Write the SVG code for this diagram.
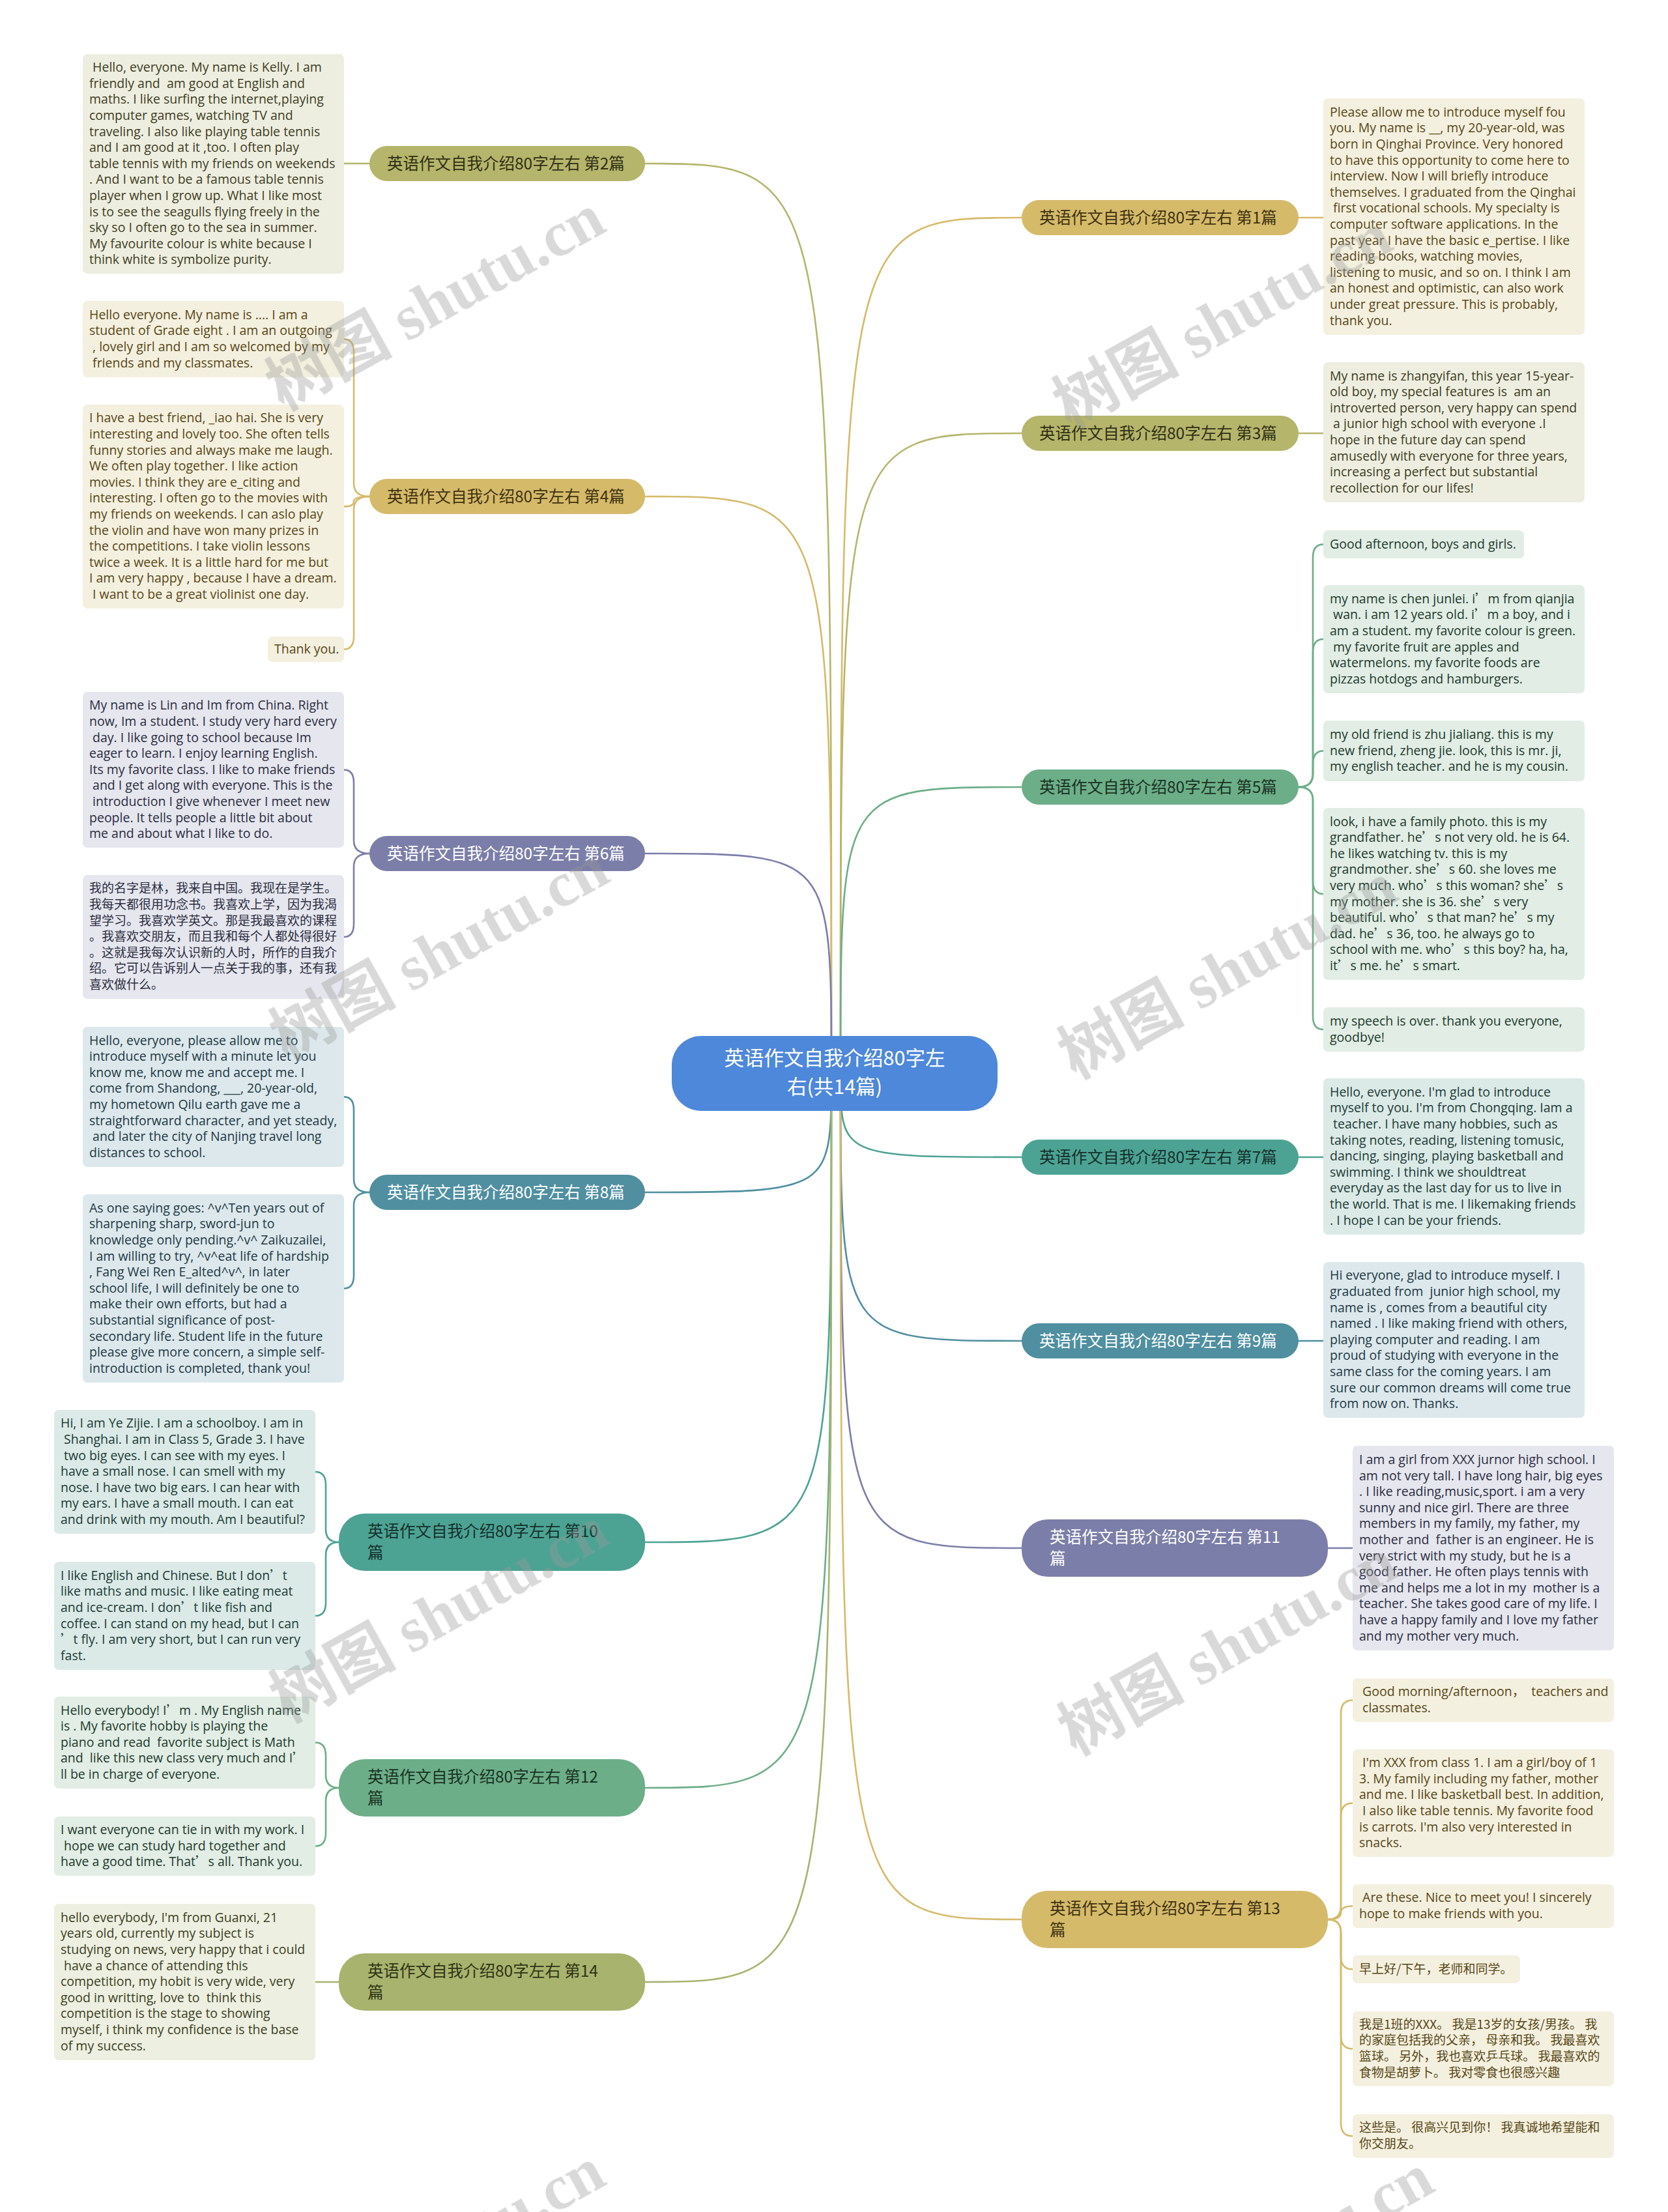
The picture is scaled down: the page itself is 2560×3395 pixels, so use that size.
<svg xmlns="http://www.w3.org/2000/svg" width="2560" height="3395" viewBox="0 0 2560 3395">
<style>
.t{font-family:"Open Sans","Noto Sans CJK SC",sans-serif;font-size:19.5px;}
.zh{font-family:"Noto Sans CJK SC",sans-serif;font-size:19px;}
.fw{font-family:"Noto Sans CJK SC",sans-serif;}
.nl{font-family:"Noto Sans CJK SC",sans-serif;font-size:24.5px;}
.ct{font-family:"Noto Sans CJK SC",sans-serif;font-size:30.5px;fill:#ffffff;}
.cn{fill:none;stroke-width:2.6;stroke-linecap:round;}
.olive .b{fill:#eeeee0}.olive text{fill:#3d3d1f}
.gold .b{fill:#f4f0df}.gold text{fill:#574616}
.purple .b{fill:#e5e6ee}.purple text{fill:#2b2c3e}
.teal .b{fill:#dce8ec}.teal text{fill:#1f3843}
.tg .b{fill:#dbeae7}.tg text{fill:#1d3a35}
.green .b{fill:#e1ede5}.green text{fill:#22392b}
.olive2 .b{fill:#edefe1}.olive2 text{fill:#3b3f22}
.wm{font-family:"Liberation Serif","Noto Sans CJK SC",serif;font-weight:bold;font-size:97px;fill:#9a9a9a;text-anchor:middle;}
</style>
<rect x="0" y="0" width="2560" height="3395" fill="#ffffff"/>

<g id="connectors">
<g stroke="#b5b56b"><path class="cn" d="M1276,1647 C1276,251 1276,251 990,251"/><path class="cn" d="M567,251 H528"/></g>
<g stroke="#d5ba69"><path class="cn" d="M1276,1647 C1276,762 1276,762 990,762"/>
<path class="cn" d="M567,762 Q543,762 543,742 V540.5 Q543,520.5 528,520.5"/>
<path class="cn" d="M567,762 Q543,762 543,769.75 V769.75 Q543,777.5 528,777.5"/>
<path class="cn" d="M567,762 Q543,762 543,782 V976.5 Q543,996.5 528,996.5"/></g>
<g stroke="#7b7ea8"><path class="cn" d="M1276,1647 C1276,1310 1276,1310 990,1310"/>
<path class="cn" d="M567,1310 Q543,1310 543,1290 V1201.5 Q543,1181.5 528,1181.5"/>
<path class="cn" d="M567,1310 Q543,1310 543,1330 V1418 Q543,1438 528,1438"/></g>
<g stroke="#4f8fa0"><path class="cn" d="M1276,1647 C1276,1830 1276,1830 990,1830"/>
<path class="cn" d="M567,1830 Q543,1830 543,1810 V1703.5 Q543,1683.5 528,1683.5"/>
<path class="cn" d="M567,1830 Q543,1830 543,1850 V1957.5 Q543,1977.5 528,1977.5"/></g>
<g stroke="#4ca394"><path class="cn" d="M1276,1647 C1276,2367 1276,2367 990,2367"/>
<path class="cn" d="M520,2367 Q500,2367 500,2347 V2279 Q500,2259 484,2259"/>
<path class="cn" d="M520,2367 Q500,2367 500,2387 V2460 Q500,2480 484,2480"/></g>
<g stroke="#6cae88"><path class="cn" d="M1276,1647 C1276,2744 1276,2744 990,2744"/>
<path class="cn" d="M520,2744 Q500,2744 500,2724 V2694.5 Q500,2674.5 484,2674.5"/>
<path class="cn" d="M520,2744 Q500,2744 500,2764 V2813.5 Q500,2833.5 484,2833.5"/></g>
<g stroke="#a8b36e"><path class="cn" d="M1276,1647 C1276,3042 1276,3042 990,3042"/><path class="cn" d="M520,3042 H484"/></g>
<g stroke="#d5ba69"><path class="cn" d="M1290,1647 C1290,334 1290,334 1568,334"/><path class="cn" d="M1993,334 H2031"/></g>
<g stroke="#b5b56b"><path class="cn" d="M1290,1647 C1290,665 1290,665 1568,665"/><path class="cn" d="M1993,665 H2031"/></g>
<g stroke="#6cae88"><path class="cn" d="M1290,1647 C1290,1208 1290,1208 1568,1208"/>
<path class="cn" d="M1993,1208 Q2015,1208 2015,1188 V855.5 Q2015,835.5 2031,835.5"/>
<path class="cn" d="M1993,1208 Q2015,1208 2015,1188 V1001 Q2015,981 2031,981"/>
<path class="cn" d="M1993,1208 Q2015,1208 2015,1188 V1172.5 Q2015,1152.5 2031,1152.5"/>
<path class="cn" d="M1993,1208 Q2015,1208 2015,1228 V1352 Q2015,1372 2031,1372"/>
<path class="cn" d="M1993,1208 Q2015,1208 2015,1228 V1560 Q2015,1580 2031,1580"/></g>
<g stroke="#4ca394"><path class="cn" d="M1290,1647 C1290,1776 1290,1776 1568,1776"/><path class="cn" d="M1993,1776 H2031"/></g>
<g stroke="#4f8fa0"><path class="cn" d="M1290,1647 C1290,2058 1290,2058 1568,2058"/><path class="cn" d="M1993,2058 H2031"/></g>
<g stroke="#7b7ea8"><path class="cn" d="M1290,1647 C1290,2376 1290,2376 1568,2376"/><path class="cn" d="M2038,2376 H2076"/></g>
<g stroke="#d5ba69"><path class="cn" d="M1290,1647 C1290,2946 1290,2946 1568,2946"/>
<path class="cn" d="M2038,2946 Q2058,2946 2058,2926 V2629.5 Q2058,2609.5 2076,2609.5"/>
<path class="cn" d="M2038,2946 Q2058,2946 2058,2926 V2787.5 Q2058,2767.5 2076,2767.5"/>
<path class="cn" d="M2038,2946 Q2058,2946 2058,2935.75 V2935.75 Q2058,2925.5 2076,2925.5"/>
<path class="cn" d="M2038,2946 Q2058,2946 2058,2966 V3002.5 Q2058,3022.5 2076,3022.5"/>
<path class="cn" d="M2038,2946 Q2058,2946 2058,2966 V3124.5 Q2058,3144.5 2076,3144.5"/>
<path class="cn" d="M2038,2946 Q2058,2946 2058,2966 V3258.5 Q2058,3278.5 2076,3278.5"/></g>
</g>

<g id="center">
<rect x="1031" y="1590" width="500" height="115" rx="45" fill="#4e88da"/>
<text class="ct" x="1281" y="1634.5" text-anchor="middle">英语作文自我介绍80字左</text>
<text class="ct" x="1281" y="1678.5" text-anchor="middle">右(共14篇)</text>
</g>

<g id="node-2"><rect x="567" y="224" width="423" height="54" rx="27" fill="#b5b56b"/><text class="nl" x="594" y="259.5" fill="#2f2f14">英语作文自我介绍80字左右 第2篇</text></g>
<g id="node-4"><rect x="567" y="735" width="423" height="54" rx="27" fill="#d5ba69"/><text class="nl" x="594" y="770.5" fill="#3f3210">英语作文自我介绍80字左右 第4篇</text></g>
<g id="node-6"><rect x="567" y="1283" width="423" height="54" rx="27" fill="#7b7ea8"/><text class="nl" x="594" y="1318.5" fill="#ffffff">英语作文自我介绍80字左右 第6篇</text></g>
<g id="node-8"><rect x="567" y="1803" width="423" height="54" rx="27" fill="#4f8fa0"/><text class="nl" x="594" y="1838.5" fill="#ffffff">英语作文自我介绍80字左右 第8篇</text></g>
<g id="node-10"><rect x="520" y="2323" width="470" height="88" rx="40" fill="#4ca394"/><text class="nl" x="564" y="2359" fill="#16302b">英语作文自我介绍80字左右 第10</text><text class="nl" x="564" y="2392" fill="#16302b">篇</text></g>
<g id="node-12"><rect x="520" y="2700" width="470" height="88" rx="40" fill="#6cae88"/><text class="nl" x="564" y="2736" fill="#1a3222">英语作文自我介绍80字左右 第12</text><text class="nl" x="564" y="2769" fill="#1a3222">篇</text></g>
<g id="node-14"><rect x="520" y="2998" width="470" height="88" rx="40" fill="#a8b36e"/><text class="nl" x="564" y="3034" fill="#2f3314">英语作文自我介绍80字左右 第14</text><text class="nl" x="564" y="3067" fill="#2f3314">篇</text></g>
<g id="node-1"><rect x="1568" y="307" width="425" height="54" rx="27" fill="#d5ba69"/><text class="nl" x="1595" y="342.5" fill="#3f3210">英语作文自我介绍80字左右 第1篇</text></g>
<g id="node-3"><rect x="1568" y="638" width="425" height="54" rx="27" fill="#b5b56b"/><text class="nl" x="1595" y="673.5" fill="#2f2f14">英语作文自我介绍80字左右 第3篇</text></g>
<g id="node-5"><rect x="1568" y="1181" width="425" height="54" rx="27" fill="#6cae88"/><text class="nl" x="1595" y="1216.5" fill="#1a3222">英语作文自我介绍80字左右 第5篇</text></g>
<g id="node-7"><rect x="1568" y="1749" width="425" height="54" rx="27" fill="#4ca394"/><text class="nl" x="1595" y="1784.5" fill="#16302b">英语作文自我介绍80字左右 第7篇</text></g>
<g id="node-9"><rect x="1568" y="2031" width="425" height="54" rx="27" fill="#4f8fa0"/><text class="nl" x="1595" y="2066.5" fill="#ffffff">英语作文自我介绍80字左右 第9篇</text></g>
<g id="node-11"><rect x="1568" y="2332" width="470" height="88" rx="40" fill="#7b7ea8"/><text class="nl" x="1611" y="2368" fill="#ffffff">英语作文自我介绍80字左右 第11</text><text class="nl" x="1611" y="2401" fill="#ffffff">篇</text></g>
<g id="node-13"><rect x="1568" y="2902" width="470" height="88" rx="40" fill="#d5ba69"/><text class="nl" x="1611" y="2938" fill="#3f3210">英语作文自我介绍80字左右 第13</text><text class="nl" x="1611" y="2971" fill="#3f3210">篇</text></g>

<g id="box-2" class="olive"><rect class="b" x="127" y="83" width="401" height="337" rx="7"/>
<text class="t" xml:space="preserve" x="137" y="110.1"><tspan x="137"> Hello, everyone. My name is Kelly. I am</tspan><tspan x="137" dy="24.6">friendly and  am good at English and</tspan><tspan x="137" dy="24.6">maths. I like surfing the internet,playing</tspan><tspan x="137" dy="24.6">computer games, watching TV and</tspan><tspan x="137" dy="24.6">traveling. I also like playing table tennis</tspan><tspan x="137" dy="24.6">and I am good at it ,too. I often play</tspan><tspan x="137" dy="24.6">table tennis with my friends on weekends</tspan><tspan x="137" dy="24.6">. And I want to be a famous table tennis</tspan><tspan x="137" dy="24.6">player when I grow up. What I like most</tspan><tspan x="137" dy="24.6">is to see the seagulls flying freely in the</tspan><tspan x="137" dy="24.6">sky so I often go to the sea in summer.</tspan><tspan x="137" dy="24.6">My favourite colour is white because I</tspan><tspan x="137" dy="24.6">think white is symbolize purity.</tspan></text></g>

<g id="box-4a" class="gold"><rect class="b" x="127" y="462" width="401" height="117" rx="7"/>
<text class="t" xml:space="preserve" x="137" y="489.8"><tspan x="137">Hello everyone. My name is .... I am a</tspan><tspan x="137" dy="24.6">student of Grade eight . I am an outgoing</tspan><tspan x="137" dy="24.6"> , lovely girl and I am so welcomed by my</tspan><tspan x="137" dy="24.6"> friends and my classmates.</tspan></text></g>

<g id="box-4b" class="gold"><rect class="b" x="127" y="621" width="401" height="313" rx="7"/>
<text class="t" xml:space="preserve" x="137" y="648.4"><tspan x="137">I have a best friend, _iao hai. She is very</tspan><tspan x="137" dy="24.6">interesting and lovely too. She often tells</tspan><tspan x="137" dy="24.6">funny stories and always make me laugh.</tspan><tspan x="137" dy="24.6">We often play together. I like action</tspan><tspan x="137" dy="24.6">movies. I think they are e_citing and</tspan><tspan x="137" dy="24.6">interesting. I often go to the movies with</tspan><tspan x="137" dy="24.6">my friends on weekends. I can aslo play</tspan><tspan x="137" dy="24.6">the violin and have won many prizes in</tspan><tspan x="137" dy="24.6">the competitions. I take violin lessons</tspan><tspan x="137" dy="24.6">twice a week. It is a little hard for me but</tspan><tspan x="137" dy="24.6">I am very happy , because I have a dream.</tspan><tspan x="137" dy="24.6"> I want to be a great violinist one day.</tspan></text></g>

<g id="box-4c" class="gold"><rect class="b" x="411" y="977" width="117" height="39" rx="7"/>
<text class="t" x="421" y="1002.7">Thank you.</text></g>

<g id="box-6a" class="purple"><rect class="b" x="127" y="1062" width="401" height="239" rx="7"/>
<text class="t" xml:space="preserve" x="137" y="1089.3"><tspan x="137">My name is Lin and Im from China. Right</tspan><tspan x="137" dy="24.6">now, Im a student. I study very hard every</tspan><tspan x="137" dy="24.6"> day. I like going to school because Im</tspan><tspan x="137" dy="24.6">eager to learn. I enjoy learning English.</tspan><tspan x="137" dy="24.6">Its my favorite class. I like to make friends</tspan><tspan x="137" dy="24.6"> and I get along with everyone. This is the</tspan><tspan x="137" dy="24.6"> introduction I give whenever I meet new</tspan><tspan x="137" dy="24.6">people. It tells people a little bit about</tspan><tspan x="137" dy="24.6">me and about what I like to do.</tspan></text></g>

<g id="box-6b" class="purple"><rect class="b" x="127" y="1343" width="401" height="190" rx="7"/>
<text class="zh" x="137" y="1370.4"><tspan x="137">我的名字是林，我来自中国。我现在是学生。</tspan><tspan x="137" dy="24.6">我每天都很用功念书。我喜欢上学，因为我渴</tspan><tspan x="137" dy="24.6">望学习。我喜欢学英文。那是我最喜欢的课程</tspan><tspan x="137" dy="24.6">。我喜欢交朋友，而且我和每个人都处得很好</tspan><tspan x="137" dy="24.6">。这就是我每次认识新的人时，所作的自我介</tspan><tspan x="137" dy="24.6">绍。它可以告诉别人一点关于我的事，还有我</tspan><tspan x="137" dy="24.6">喜欢做什么。</tspan></text></g>

<g id="box-8a" class="teal"><rect class="b" x="127" y="1576" width="401" height="215" rx="7"/>
<text class="t" xml:space="preserve" x="137" y="1603.6"><tspan x="137">Hello, everyone, please allow me to</tspan><tspan x="137" dy="24.6">introduce myself with a minute let you</tspan><tspan x="137" dy="24.6">know me, know me and accept me. I</tspan><tspan x="137" dy="24.6">come from Shandong, ___, 20-year-old,</tspan><tspan x="137" dy="24.6">my hometown Qilu earth gave me a</tspan><tspan x="137" dy="24.6">straightforward character, and yet steady,</tspan><tspan x="137" dy="24.6"> and later the city of Nanjing travel long</tspan><tspan x="137" dy="24.6">distances to school.</tspan></text></g>

<g id="box-8b" class="teal"><rect class="b" x="127" y="1833" width="401" height="289" rx="7"/>
<text class="t" xml:space="preserve" x="137" y="1860.7"><tspan x="137">As one saying goes: ^v^Ten years out of</tspan><tspan x="137" dy="24.6">sharpening sharp, sword-jun to</tspan><tspan x="137" dy="24.6">knowledge only pending.^v^ Zaikuzailei,</tspan><tspan x="137" dy="24.6">I am willing to try, ^v^eat life of hardship</tspan><tspan x="137" dy="24.6">, Fang Wei Ren E_alted^v^, in later</tspan><tspan x="137" dy="24.6">school life, I will definitely be one to</tspan><tspan x="137" dy="24.6">make their own efforts, but had a</tspan><tspan x="137" dy="24.6">substantial significance of post-</tspan><tspan x="137" dy="24.6">secondary life. Student life in the future</tspan><tspan x="137" dy="24.6">please give more concern, a simple self-</tspan><tspan x="137" dy="24.6">introduction is completed, thank you!</tspan></text></g>

<g id="box-10a" class="tg"><rect class="b" x="83" y="2164" width="401" height="190" rx="7"/>
<text class="t" xml:space="preserve" x="93" y="2191.4"><tspan x="93">Hi, I am Ye Zijie. I am a schoolboy. I am in</tspan><tspan x="93" dy="24.6"> Shanghai. I am in Class 5, Grade 3. I have</tspan><tspan x="93" dy="24.6"> two big eyes. I can see with my eyes. I</tspan><tspan x="93" dy="24.6">have a small nose. I can smell with my</tspan><tspan x="93" dy="24.6">nose. I have two big ears. I can hear with</tspan><tspan x="93" dy="24.6">my ears. I have a small mouth. I can eat</tspan><tspan x="93" dy="24.6">and drink with my mouth. Am I beautiful?</tspan></text></g>

<g id="box-10b" class="tg"><rect class="b" x="83" y="2397" width="401" height="166" rx="7"/>
<text class="t" xml:space="preserve" x="93" y="2424.7"><tspan x="93">I like English and Chinese. But I don<tspan class="fw">’</tspan>t</tspan><tspan x="93" dy="24.6">like maths and music. I like eating meat</tspan><tspan x="93" dy="24.6">and ice-cream. I don<tspan class="fw">’</tspan>t like fish and</tspan><tspan x="93" dy="24.6">coffee. I can stand on my head, but I can</tspan><tspan x="93" dy="24.6"><tspan class="fw">’</tspan>t fly. I am very short, but I can run very</tspan><tspan x="93" dy="24.6">fast.</tspan></text></g>

<g id="box-12a" class="green"><rect class="b" x="83" y="2604" width="401" height="141" rx="7"/>
<text class="t" xml:space="preserve" x="93" y="2631.5"><tspan x="93">Hello everybody! I<tspan class="fw">’</tspan>m . My English name</tspan><tspan x="93" dy="24.6">is . My favorite hobby is playing the</tspan><tspan x="93" dy="24.6">piano and read  favorite subject is Math</tspan><tspan x="93" dy="24.6">and  like this new class very much and I<tspan class="fw">’</tspan></tspan><tspan x="93" dy="24.6">ll be in charge of everyone.</tspan></text></g>

<g id="box-12b" class="green"><rect class="b" x="83" y="2788" width="401" height="91" rx="7"/>
<text class="t" xml:space="preserve" x="93" y="2815.1"><tspan x="93">I want everyone can tie in with my work. I</tspan><tspan x="93" dy="24.6"> hope we can study hard together and</tspan><tspan x="93" dy="24.6">have a good time. That<tspan class="fw">’</tspan>s all. Thank you.</tspan></text></g>

<g id="box-14" class="olive2"><rect class="b" x="83" y="2922" width="401" height="240" rx="7"/>
<text class="t" xml:space="preserve" x="93" y="2949.8"><tspan x="93">hello everybody, I'm from Guanxi, 21</tspan><tspan x="93" dy="24.6">years old, currently my subject is</tspan><tspan x="93" dy="24.6">studying on news, very happy that i could</tspan><tspan x="93" dy="24.6"> have a chance of attending this</tspan><tspan x="93" dy="24.6">competition, my hobit is very wide, very</tspan><tspan x="93" dy="24.6">good in writting, love to  think this</tspan><tspan x="93" dy="24.6">competition is the stage to showing</tspan><tspan x="93" dy="24.6">myself, i think my confidence is the base</tspan><tspan x="93" dy="24.6">of my success.</tspan></text></g>

<g id="box-1" class="gold"><rect class="b" x="2031" y="151" width="401" height="363" rx="7"/>
<text class="t" xml:space="preserve" x="2041" y="178.8"><tspan x="2041">Please allow me to introduce myself fou</tspan><tspan x="2041" dy="24.6">you. My name is __, my 20-year-old, was</tspan><tspan x="2041" dy="24.6">born in Qinghai Province. Very honored</tspan><tspan x="2041" dy="24.6">to have this opportunity to come here to</tspan><tspan x="2041" dy="24.6">interview. Now I will briefly introduce</tspan><tspan x="2041" dy="24.6">themselves. I graduated from the Qinghai</tspan><tspan x="2041" dy="24.6"> first vocational schools. My specialty is</tspan><tspan x="2041" dy="24.6">computer software applications. In the</tspan><tspan x="2041" dy="24.6">past year I have the basic e_pertise. I like</tspan><tspan x="2041" dy="24.6">reading books, watching movies,</tspan><tspan x="2041" dy="24.6">listening to music, and so on. I think I am</tspan><tspan x="2041" dy="24.6">an honest and optimistic, can also work</tspan><tspan x="2041" dy="24.6">under great pressure. This is probably,</tspan><tspan x="2041" dy="24.6">thank you.</tspan></text></g>

<g id="box-3" class="olive"><rect class="b" x="2031" y="556" width="401" height="215" rx="7"/>
<text class="t" xml:space="preserve" x="2041" y="583.6"><tspan x="2041">My name is zhangyifan, this year 15-year-</tspan><tspan x="2041" dy="24.6">old boy, my special features is  am an</tspan><tspan x="2041" dy="24.6">introverted person, very happy can spend</tspan><tspan x="2041" dy="24.6"> a junior high school with everyone .I</tspan><tspan x="2041" dy="24.6">hope in the future day can spend</tspan><tspan x="2041" dy="24.6">amusedly with everyone for three years,</tspan><tspan x="2041" dy="24.6">increasing a perfect but substantial</tspan><tspan x="2041" dy="24.6">recollection for our lifes!</tspan></text></g>

<g id="box-5a" class="green"><rect class="b" x="2031" y="814" width="308" height="43" rx="7"/>
<text class="t" x="2041" y="841.7">Good afternoon, boys and girls.</text></g>

<g id="box-5b" class="green"><rect class="b" x="2031" y="898" width="401" height="166" rx="7"/>
<text class="t" xml:space="preserve" x="2041" y="925.7"><tspan x="2041">my name is chen junlei. i<tspan class="fw">’</tspan>m from qianjia</tspan><tspan x="2041" dy="24.6"> wan. i am 12 years old. i<tspan class="fw">’</tspan>m a boy, and i</tspan><tspan x="2041" dy="24.6">am a student. my favorite colour is green.</tspan><tspan x="2041" dy="24.6"> my favorite fruit are apples and</tspan><tspan x="2041" dy="24.6">watermelons. my favorite foods are</tspan><tspan x="2041" dy="24.6">pizzas hotdogs and hamburgers.</tspan></text></g>

<g id="box-5c" class="green"><rect class="b" x="2031" y="1106" width="401" height="93" rx="7"/>
<text class="t" xml:space="preserve" x="2041" y="1134.1"><tspan x="2041">my old friend is zhu jialiang. this is my</tspan><tspan x="2041" dy="24.6">new friend, zheng jie. look, this is mr. ji,</tspan><tspan x="2041" dy="24.6">my english teacher. and he is my cousin.</tspan></text></g>

<g id="box-5d" class="green"><rect class="b" x="2031" y="1240" width="401" height="264" rx="7"/>
<text class="t" xml:space="preserve" x="2041" y="1267.5"><tspan x="2041">look, i have a family photo. this is my</tspan><tspan x="2041" dy="24.6">grandfather. he<tspan class="fw">’</tspan>s not very old. he is 64.</tspan><tspan x="2041" dy="24.6">he likes watching tv. this is my</tspan><tspan x="2041" dy="24.6">grandmother. she<tspan class="fw">’</tspan>s 60. she loves me</tspan><tspan x="2041" dy="24.6">very much. who<tspan class="fw">’</tspan>s this woman? she<tspan class="fw">’</tspan>s</tspan><tspan x="2041" dy="24.6">my mother. she is 36. she<tspan class="fw">’</tspan>s very</tspan><tspan x="2041" dy="24.6">beautiful. who<tspan class="fw">’</tspan>s that man? he<tspan class="fw">’</tspan>s my</tspan><tspan x="2041" dy="24.6">dad. he<tspan class="fw">’</tspan>s 36, too. he always go to</tspan><tspan x="2041" dy="24.6">school with me. who<tspan class="fw">’</tspan>s this boy? ha, ha,</tspan><tspan x="2041" dy="24.6">it<tspan class="fw">’</tspan>s me. he<tspan class="fw">’</tspan>s smart.</tspan></text></g>

<g id="box-5e" class="green"><rect class="b" x="2031" y="1546" width="401" height="68" rx="7"/>
<text class="t" xml:space="preserve" x="2041" y="1573.9"><tspan x="2041">my speech is over. thank you everyone,</tspan><tspan x="2041" dy="24.6">goodbye!</tspan></text></g>

<g id="box-7" class="tg"><rect class="b" x="2031" y="1655" width="401" height="240" rx="7"/>
<text class="t" xml:space="preserve" x="2041" y="1682.8"><tspan x="2041">Hello, everyone. I'm glad to introduce</tspan><tspan x="2041" dy="24.6">myself to you. I'm from Chongqing. Iam a</tspan><tspan x="2041" dy="24.6"> teacher. I have many hobbies, such as</tspan><tspan x="2041" dy="24.6">taking notes, reading, listening tomusic,</tspan><tspan x="2041" dy="24.6">dancing, singing, playing basketball and</tspan><tspan x="2041" dy="24.6">swimming. I think we shouldtreat</tspan><tspan x="2041" dy="24.6">everyday as the last day for us to live in</tspan><tspan x="2041" dy="24.6">the world. That is me. I likemaking friends</tspan><tspan x="2041" dy="24.6">. I hope I can be your friends.</tspan></text></g>

<g id="box-9" class="teal"><rect class="b" x="2031" y="1937" width="401" height="239" rx="7"/>
<text class="t" xml:space="preserve" x="2041" y="1964.3"><tspan x="2041">Hi everyone, glad to introduce myself. I</tspan><tspan x="2041" dy="24.6">graduated from  junior high school, my</tspan><tspan x="2041" dy="24.6">name is , comes from a beautiful city</tspan><tspan x="2041" dy="24.6">named . I like making friend with others,</tspan><tspan x="2041" dy="24.6">playing computer and reading. I am</tspan><tspan x="2041" dy="24.6">proud of studying with everyone in the</tspan><tspan x="2041" dy="24.6">same class for the coming years. I am</tspan><tspan x="2041" dy="24.6">sure our common dreams will come true</tspan><tspan x="2041" dy="24.6">from now on. Thanks.</tspan></text></g>

<g id="box-11" class="purple"><rect class="b" x="2076" y="2219" width="401" height="314" rx="7"/>
<text class="t" xml:space="preserve" x="2086" y="2246.9"><tspan x="2086">I am a girl from XXX jurnor high school. I</tspan><tspan x="2086" dy="24.6">am not very tall. I have long hair, big eyes</tspan><tspan x="2086" dy="24.6">. I like reading,music,sport. i am a very</tspan><tspan x="2086" dy="24.6">sunny and nice girl. There are three</tspan><tspan x="2086" dy="24.6">members in my family, my father, my</tspan><tspan x="2086" dy="24.6">mother and  father is an engineer. He is</tspan><tspan x="2086" dy="24.6">very strict with my study, but he is a</tspan><tspan x="2086" dy="24.6">good father. He often plays tennis with</tspan><tspan x="2086" dy="24.6">me and helps me a lot in my  mother is a</tspan><tspan x="2086" dy="24.6">teacher. She takes good care of my life. I</tspan><tspan x="2086" dy="24.6">have a happy family and I love my father</tspan><tspan x="2086" dy="24.6">and my mother very much.</tspan></text></g>

<g id="box-13a" class="gold"><rect class="b" x="2076" y="2576" width="401" height="67" rx="7"/>
<text class="t" xml:space="preserve" x="2086" y="2603.4"><tspan x="2086"> Good morning/afternoon，  teachers and</tspan><tspan x="2086" dy="24.6"> classmates.</tspan></text></g>

<g id="box-13b" class="gold"><rect class="b" x="2076" y="2685" width="401" height="165" rx="7"/>
<text class="t" xml:space="preserve" x="2086" y="2712.2"><tspan x="2086"> I'm XXX from class 1. I am a girl/boy of 1</tspan><tspan x="2086" dy="24.6">3. My family including my father, mother</tspan><tspan x="2086" dy="24.6">and me. I like basketball best. In addition,</tspan><tspan x="2086" dy="24.6"> I also like table tennis. My favorite food</tspan><tspan x="2086" dy="24.6">is carrots. I'm also very interested in</tspan><tspan x="2086" dy="24.6">snacks.</tspan></text></g>

<g id="box-13c" class="gold"><rect class="b" x="2076" y="2892" width="401" height="67" rx="7"/>
<text class="t" xml:space="preserve" x="2086" y="2919.4"><tspan x="2086"> Are these. Nice to meet you! I sincerely</tspan><tspan x="2086" dy="24.6">hope to make friends with you.</tspan></text></g>

<g id="box-13d" class="gold"><rect class="b" x="2076" y="3001" width="257" height="43" rx="7"/>
<text class="zh" x="2086" y="3028.7">早上好/下午，老师和同学。</text></g>

<g id="box-13e" class="gold"><rect class="b" x="2076" y="3087" width="401" height="115" rx="7"/>
<text class="zh" xml:space="preserve" x="2086" y="3113.8"><tspan x="2086">我是1班的XXX。 我是13岁的女孩/男孩。 我</tspan><tspan x="2086" dy="24.6">的家庭包括我的父亲， 母亲和我。 我最喜欢</tspan><tspan x="2086" dy="24.6">篮球。 另外，我也喜欢乒乓球。 我最喜欢的</tspan><tspan x="2086" dy="24.6">食物是胡萝卜。 我对零食也很感兴趣</tspan></text></g>

<g id="box-13f" class="gold"><rect class="b" x="2076" y="3245" width="401" height="67" rx="7"/>
<text class="zh" xml:space="preserve" x="2086" y="3272.4"><tspan x="2086">这些是。 很高兴见到你！ 我真诚地希望能和</tspan><tspan x="2086" dy="24.6">你交朋友。</tspan></text></g>

<g id="watermarks" opacity="0.38">
<text class="wm" transform="translate(684,492) rotate(-29)">树图 shutu.cn</text>
<text class="wm" transform="translate(690,1490) rotate(-29)">树图 shutu.cn</text>
<text class="wm" transform="translate(690,2506) rotate(-29)">树图 shutu.cn</text>
<text class="wm" transform="translate(684,3490) rotate(-29)">树图 shutu.cn</text>
<text class="wm" transform="translate(1892,520) rotate(-29)">树图 shutu.cn</text>
<text class="wm" transform="translate(1900,1518) rotate(-29)">树图 shutu.cn</text>
<text class="wm" transform="translate(1900,2556) rotate(-29)">树图 shutu.cn</text>
<text class="wm" transform="translate(1956,3500) rotate(-29)">树图 shutu.cn</text>
</g>
</svg>
